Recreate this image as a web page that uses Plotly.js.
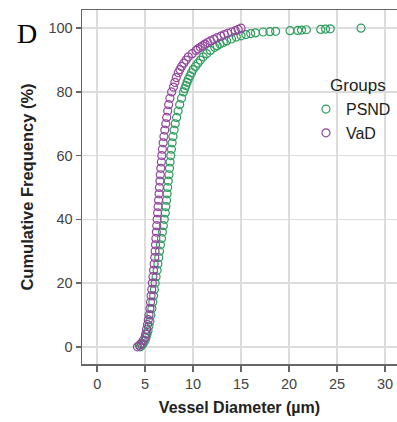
<!DOCTYPE html>
<html>
<head>
<meta charset="utf-8">
<script src="https://cdn.plot.ly/plotly-3.0.1.min.js"></script>
<style>html,body{margin:0;padding:0;background:#fff;}#chart{width:397px;height:422px;}</style>
</head>
<body>
<div id="chart"></div>
<script>
// Vessel diameter (µm) and cumulative frequency (%)
const vadDiameter = [4.2,4.4,4.6,4.8,5.0,5.06,5.15,5.25,5.33,5.4,5.5,5.56,5.62,5.69,5.75,5.81,5.88,5.94,6.0,6.04,6.08,6.12,6.17,6.21,6.25,6.3,6.35,6.4,6.45,6.49,6.54,6.58,6.63,6.69,6.74,6.8,6.88,6.96,7.05,7.15,7.25,7.35,7.45,7.58,7.76,7.95,8.1,8.25,8.45,8.62,8.8,9.03,9.27,9.5,9.9,10.3,10.5,10.75,11.0,11.25,11.5,11.8,12.15,12.5,12.9,13.25,13.6,14.0,14.4,14.7,15.0];
const vadCumFreq = [0,0.5,1,2,3,4,5.5,7,8.5,10,12,14,16,18,20,22,24,26,28,30,32,34,36,38,40,42,44,46,48,50,52,54,56,58,60,62,64,66,68,70,72,74,76,78,80,81.5,83,84.5,86,87,88,89,90,91,92,93,93.5,94,94.5,95,95.5,96,96.5,97,97.5,98,98.4,98.8,99.2,99.6,100];

const psndDiameter = [4.5,4.65,4.8,5.0,5.1,5.2,5.3,5.4,5.5,5.6,5.7,5.8,5.88,5.96,6.04,6.14,6.25,6.33,6.42,6.5,6.6,6.7,6.8,6.9,7.0,7.1,7.16,7.23,7.29,7.35,7.41,7.48,7.54,7.6,7.67,7.74,7.81,7.9,8.02,8.14,8.28,8.44,8.6,8.8,9.0,9.12,9.25,9.37,9.5,9.67,9.83,10.0,10.25,10.5,10.76,11.05,11.4,11.8,12.25,12.5,12.8,13.15,13.5,14.0,14.5,15.0,15.5,16.0,16.5,17.3,18.0,18.6,20.1,20.9,21.3,21.8,23.3,23.8,24.3,27.5];
const psndCumFreq = [0,0.5,1,2,3,4,5,6.5,8,10,12,14,16,18,20,22,24,26,28,30,32,34,36,38,40,42,44,46,48,50,52,54,56,58,60,62,64,66,68,70,72,74,76,78,80,81,82,83,84,85,86,87,88,89,90,91,92,93,94,94.5,95,95.5,96,96.6,97.2,97.6,98,98.3,98.5,98.8,98.9,99,99.2,99.3,99.4,99.5,99.6,99.7,99.8,100];

const xTicks = [0,5,10,15,20,25,30];
const yTicks = [0,20,40,60,80,100];

const FONT = 'Liberation Sans, Arial, sans-serif';

const traces = [
  {
    name: 'PSND', x: psndDiameter, y: psndCumFreq, type: 'scatter', mode: 'markers',
    marker: {symbol: 'circle-open', size: 8, color: '#2e9e5e', line: {width: 1.2}}
  },
  {
    name: 'VaD', x: vadDiameter, y: vadCumFreq, type: 'scatter', mode: 'markers',
    marker: {symbol: 'circle-open', size: 8, color: '#93479f', line: {width: 1.2}}
  }
];

const layout = {
  width: 397, height: 422,
  margin: {l: 82, r: 0, t: 10, b: 58},
  paper_bgcolor: '#fff', plot_bgcolor: '#fff',
  font: {family: FONT, color: '#333', size: 14},
  showlegend: true,
  legend: {
    x: 0.711, y: 0.768, xanchor: 'left', yanchor: 'top',
    bgcolor: 'rgba(0,0,0,0)',
    font: {family: FONT, size: 16, color: '#222'},
    itemwidth: 30
  },
  xaxis: {
    range: [-1.58, 31.25], tickvals: xTicks, ticktext: xTicks.map(String),
    showgrid: true, gridcolor: '#dcdcdc', gridwidth: 1.5, zeroline: false,
    showline: true, linecolor: '#666', linewidth: 1.5, mirror: true,
    ticks: 'outside', ticklen: 6, tickcolor: '#666', tickwidth: 1.5,
    tickfont: {family: FONT, size: 14.5, color: '#444'},
    title: {text: 'Vessel Diameter (µm)', font: {family: FONT, size: 16, color: '#222', weight: 'bold'}, standoff: 11}
  },
  yaxis: {
    range: [-5.4, 105.7], tickvals: yTicks, ticktext: yTicks.map(String),
    showgrid: true, gridcolor: '#dcdcdc', gridwidth: 1.5, zeroline: false,
    showline: true, linecolor: '#666', linewidth: 1.5,
    ticks: 'outside', ticklen: 5, tickcolor: '#666', tickwidth: 1.5,
    tickfont: {family: FONT, size: 14.5, color: '#444'},
    title: {text: 'Cumulative Frequency (%)', font: {family: FONT, size: 16.5, color: '#222', weight: 'bold'}, standoff: 10}
  },
  annotations: [
    {text: 'D', xref: 'paper', yref: 'paper', x: -0.1746, y: 0.935, xanchor: 'center', yanchor: 'middle',
     showarrow: false, font: {family: 'Liberation Serif, Times New Roman, serif', size: 28, color: '#000'}},
    {text: 'Groups', xref: 'paper', yref: 'paper', x: (328 - 82) / 315, y: 1 - (85 - 10) / 354, xanchor: 'left', yanchor: 'middle',
     showarrow: false, font: {family: FONT, size: 17, color: '#222'}}
  ]
};

Plotly.newPlot('chart', traces, layout, {staticPlot: true, displayModeBar: false});
</script>
</body>
</html>
